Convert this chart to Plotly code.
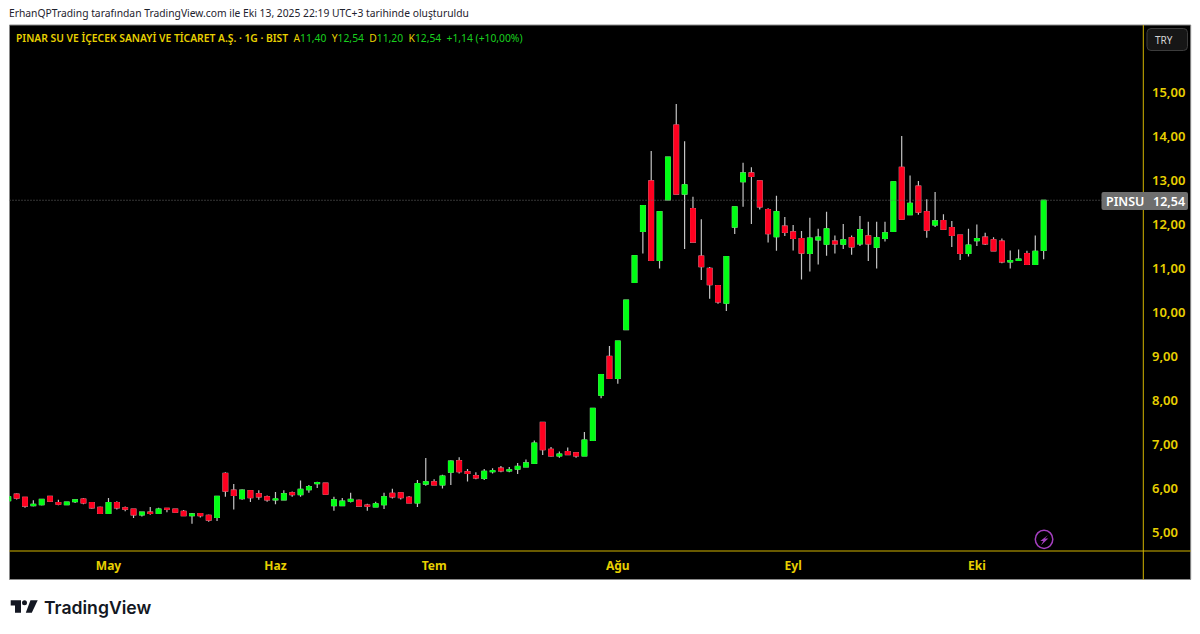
#PINSU daily candles, TradingView style snapshot
import plotly.graph_objects as go

W, H = 1200, 634

opens = [5.71,5.86,5.79,5.60,5.62,5.81,5.67,5.62,5.69,5.75,5.67,5.56,5.42,5.67,5.55,5.52,5.39,5.45,5.42,5.54,
         5.52,5.47,5.37,5.42,5.38,5.33,6.33,5.95,5.76,5.94,5.87,5.80,5.73,5.73,5.89,5.85,5.96,6.10,6.11,5.60,
         5.60,5.70,5.72,5.61,5.57,5.62,5.88,5.89,5.79,5.66,6.09,6.14,6.07,6.36,6.62,6.37,6.28,6.22,6.37,6.45,
         6.39,6.43,6.48,6.56,7.49,6.88,6.73,6.83,6.80,6.73,7.08,8.11,8.99,8.49,9.60,10.67,11.83,12.98,11.17,12.55,
         14.25,12.68,12.35,11.27,10.99,10.60,10.20,11.93,12.96,13.16,12.98,12.33,11.71,11.95,11.82,11.67,11.33,11.64,11.54,11.61,
         11.54,11.69,11.55,11.73,11.47,11.67,11.83,13.29,12.21,12.86,12.28,11.98,12.08,11.92,11.75,11.33,11.62,11.70,11.64,11.61,
         11.14,11.17,11.33,11.08,11.40]
highs = [5.81,5.88,5.79,5.72,5.74,5.81,5.73,5.69,5.74,5.77,5.67,5.58,5.77,5.70,5.58,5.52,5.45,5.57,5.55,5.55,
         5.53,5.50,5.43,5.43,5.40,5.81,6.36,6.09,5.97,5.95,5.95,5.83,5.91,5.95,5.92,6.17,6.07,6.14,6.11,5.80,
         5.77,5.89,5.74,5.64,5.69,5.89,5.98,5.90,5.82,6.18,6.68,6.20,6.30,6.63,6.70,6.43,6.36,6.43,6.45,6.50,
         6.48,6.57,6.65,7.08,7.50,6.93,6.83,6.92,6.80,7.27,7.81,8.58,9.23,9.34,10.27,11.28,12.42,13.66,12.28,13.52,
         14.73,13.88,12.62,12.11,11.02,10.60,11.26,12.39,13.39,13.29,12.98,12.36,12.64,12.16,11.98,11.84,12.14,11.89,12.28,11.74,
         12.00,11.74,12.18,12.05,12.05,12.05,12.96,14.00,13.10,12.98,12.56,12.73,12.22,12.07,11.75,11.89,11.99,11.80,11.70,11.67,
         11.40,11.42,11.39,11.74,12.54]
lows = [5.70,5.74,5.55,5.58,5.60,5.68,5.61,5.61,5.66,5.63,5.53,5.42,5.42,5.51,5.47,5.32,5.35,5.39,5.42,5.45,
        5.44,5.36,5.19,5.33,5.23,5.25,5.80,5.51,5.73,5.68,5.73,5.69,5.63,5.72,5.80,5.80,5.89,6.00,5.86,5.48,
        5.60,5.67,5.59,5.48,5.57,5.52,5.76,5.74,5.66,5.57,6.05,6.07,5.99,6.07,6.33,6.15,6.20,6.18,6.33,6.36,
        6.36,6.32,6.48,6.56,6.75,6.71,6.69,6.75,6.69,6.73,7.08,8.04,8.49,8.37,9.60,10.67,11.33,11.17,10.99,12.55,
        12.68,11.43,11.59,10.73,10.30,10.19,10.02,11.77,12.39,12.00,12.33,11.58,11.39,11.73,11.40,10.74,10.92,11.08,11.28,11.33,
        11.43,11.30,11.50,11.16,10.99,11.60,11.83,12.11,12.21,12.21,11.69,11.93,11.88,11.48,11.18,11.26,11.50,11.52,11.39,11.11,
        10.99,11.17,11.08,11.08,11.20]
closes = [5.80,5.77,5.59,5.63,5.74,5.70,5.63,5.68,5.73,5.66,5.55,5.42,5.67,5.55,5.52,5.39,5.45,5.42,5.52,5.52,
          5.45,5.37,5.41,5.37,5.27,5.81,5.93,5.83,5.95,5.78,5.80,5.73,5.75,5.87,5.85,5.97,6.03,6.12,5.86,5.73,
          5.70,5.74,5.59,5.59,5.64,5.80,5.80,5.78,5.66,6.10,6.14,6.07,6.27,6.61,6.37,6.33,6.23,6.38,6.39,6.39,
          6.41,6.49,6.57,7.02,6.87,6.73,6.77,6.76,6.73,7.09,7.81,8.58,8.49,9.34,10.27,11.28,12.42,11.17,12.28,13.52,
          12.68,12.89,11.59,11.03,10.62,10.23,11.26,12.39,13.16,13.08,12.39,11.78,12.28,11.81,11.67,11.34,11.68,11.70,11.89,11.55,
          11.64,11.48,11.87,11.55,11.69,11.80,12.96,12.11,12.47,12.27,11.86,12.07,11.88,11.74,11.33,11.52,11.67,11.55,11.39,11.14,
          11.17,11.20,11.08,11.38,12.54]
bar_index = list(range(len(closes)))

price_ticks = [5, 6, 7, 8, 9, 10, 11, 12, 13, 14, 15]
month_ticks = [12, 32, 51, 73, 94, 116]
month_labels = ["May", "Haz", "Tem", "Ağu", "Eyl", "Eki"]

UP = "#00ff14"
DOWN = "#ff0020"
WICK = "#c4c4c4"
GOLD = "#e8d000"
PANE_LINE = "#d2b400"
VALUE_GREEN = "#19d11f"
BADGE = "#a53fc0"
FONT = "Noto Sans"

#Helpers to place things in screen pixels
def px(x):
    return x / W

def py(y):
    return 1 - y / H

def rounded(x0, y0, x1, y1, r):
    return (f"M{px(x0+r)},{py(y0)} L{px(x1-r)},{py(y0)} Q{px(x1)},{py(y0)} {px(x1)},{py(y0+r)} "
            f"L{px(x1)},{py(y1-r)} Q{px(x1)},{py(y1)} {px(x1-r)},{py(y1)} "
            f"L{px(x0+r)},{py(y1)} Q{px(x0)},{py(y1)} {px(x0)},{py(y1-r)} "
            f"L{px(x0)},{py(y0+r)} Q{px(x0)},{py(y0)} {px(x0+r)},{py(y0)} Z")

def poly(points):
    return "M" + " L".join(f"{px(x)},{py(y)}" for x, y in points) + " Z"

def comma(v):
    return f"{v:.2f}".replace(".", ",")

def note(x, y, text, size, color, xanchor="left", family=FONT, weight="normal"):
    fig.add_annotation(x=px(x), y=py(y), xref="paper", yref="paper", text=text, showarrow=False,
                       xanchor=xanchor, yanchor="middle", align="left",
                       font=dict(family=family, size=size, color=color, weight=weight))

fig = go.Figure()

#Wicks first, then bodies on top so the wick colour stays gray
fig.add_trace(go.Candlestick(x=bar_index, open=opens, high=highs, low=lows, close=closes,
                             whiskerwidth=0, hoverinfo="skip",
                             increasing=dict(line=dict(color=WICK, width=1.2), fillcolor=WICK),
                             decreasing=dict(line=dict(color=WICK, width=1.2), fillcolor=WICK)))
body_top = [max(o, c) for o, c in zip(opens, closes)]
body_bottom = [min(o, c) for o, c in zip(opens, closes)]
fig.add_trace(go.Candlestick(x=bar_index, open=opens, high=body_top, low=body_bottom, close=closes,
                             whiskerwidth=0, hoverinfo="skip",
                             increasing=dict(line=dict(color=UP, width=1), fillcolor=UP),
                             decreasing=dict(line=dict(color=DOWN, width=1), fillcolor=DOWN)))

last_close = closes[-1]

shapes = [
    #chart frame, both axis panes included
    dict(type="rect", xref="paper", yref="paper", x0=px(9.5), x1=px(1190.7), y0=py(25), y1=py(579.5),
         fillcolor="#000000", line=dict(color="#8a8a8a", width=1), layer="below"),
    dict(type="line", xref="paper", yref="paper", x0=px(1143.3), x1=px(1143.3), y0=py(25), y1=py(579.5),
         line=dict(color=PANE_LINE, width=1)),
    dict(type="line", xref="paper", yref="paper", x0=px(9.5), x1=px(1190.7), y0=py(551), y1=py(551),
         line=dict(color=PANE_LINE, width=1)),
    #last price line
    dict(type="line", xref="paper", yref="y", x0=px(9.5), x1=px(1143), y0=last_close, y1=last_close,
         line=dict(color="#6a6a6a", width=1, dash="1px,2px")),
    #last price label
    dict(type="path", xref="paper", yref="paper", path=rounded(1101.5, 192, 1188, 210, 2),
         fillcolor="#6e6e6e", line=dict(width=0)),
    #currency button
    dict(type="path", xref="paper", yref="paper", path=rounded(1147, 28.5, 1187.5, 50.5, 4),
         fillcolor="#161616", line=dict(color="#3c3c3c", width=1)),
    #purple lightning badge
    dict(type="circle", xref="paper", yref="paper", x0=px(1035.3), x1=px(1052.8), y0=py(530.2), y1=py(548.4),
         line=dict(color=BADGE, width=1.5)),
    dict(type="path", xref="paper", yref="paper",
         path=poly([(1048, 535), (1040.3, 541), (1043.3, 541), (1041, 545.2), (1048.3, 538.6), (1044.8, 538.6)]),
         fillcolor=BADGE, line=dict(width=0)),
    #TradingView logo
    dict(type="path", xref="paper", yref="paper",
         path=poly([(10.7, 600.3), (21, 600.3), (21, 612.7), (15, 612.7), (15, 605.5), (10.7, 605.5)]),
         fillcolor="#131722", line=dict(width=0)),
    dict(type="circle", xref="paper", yref="paper", x0=px(22), x1=px(27), y0=py(600.3), y1=py(605.3),
         fillcolor="#131722", line=dict(width=0)),
    dict(type="path", xref="paper", yref="paper",
         path=poly([(30.5, 600.3), (37.7, 600.3), (31.8, 612.7), (25.8, 612.7)]),
         fillcolor="#131722", line=dict(width=0)),
]

fig.update_layout(
    width=W, height=H,
    margin=dict(l=0, r=0, t=0, b=0),
    paper_bgcolor="#ffffff",
    plot_bgcolor="rgba(0,0,0,0)",
    separators=",.",
    showlegend=False,
    boxgap=0.2,
    boxmode="overlay",
    shapes=shapes,
    xaxis=dict(domain=[px(9.5), px(1143)], range=[0.144, 135.9], rangeslider=dict(visible=False),
               tickmode="array", tickvals=month_ticks, ticktext=month_labels,
               showgrid=False, zeroline=False, showline=False, ticklen=0, ticklabelstandoff=6,
               tickfont=dict(family=FONT, size=12, color=GOLD, weight="bold")),
    yaxis=dict(domain=[py(551), py(25)], range=[4.568, 16.523], side="right",
               tickmode="array", tickvals=price_ticks, tickformat=".2f",
               showgrid=False, zeroline=False, showline=False, ticklen=0, ticklabelstandoff=8,
               tickfont=dict(family=FONT, size=13, color=GOLD, weight=600)),
)

#Texts
note(7, 13.5, "ErhanQPTrading tarafından TradingView.com ile Eki 13, 2025 22:19 UTC+3 tarihinde oluşturuldu", 10.3, "#1e222d")
title = "PINAR SU VE İÇECEK SANAYİ VE TİCARET A.Ş. · 1G · BIST"
ohlc = [("A", opens[-1]), ("Y", highs[-1]), ("D", lows[-1]), ("K", last_close)]
line = f'<span style="font-weight:600">{title}</span>&#160;&#160;'
for name, val in ohlc:
    line += f'<span style="color:{GOLD}">{name}</span><span style="color:{VALUE_GREEN}">{comma(val)}</span>&#160;&#160;'
line += f'<span style="color:{VALUE_GREEN}">+1,14 (+10,00%)</span>'
note(14, 38, line, 10.3, GOLD)
note(1164, 39.5, "TRY", 10, "#d4d4d4", xanchor="center")
note(1104, 201, "PINSU", 12.5, "#ffffff", weight=600)
note(1151, 201, comma(last_close), 12.5, "#ffffff", weight=600)
note(42, 607, "TradingView", 17.6, "#131722", family="Inter", weight=600)

fig.write_html("out.html", config=dict(displayModeBar=False),
               post_script="document.body.style.margin='0';")
